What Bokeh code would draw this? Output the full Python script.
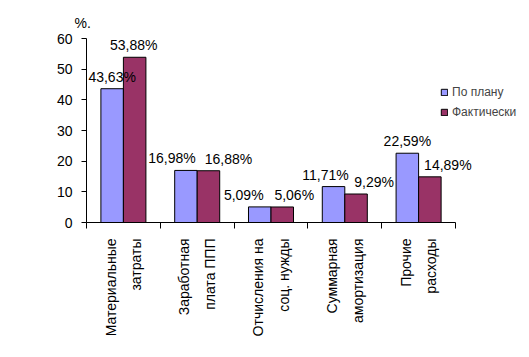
import numpy as np
from bokeh.plotting import figure
from bokeh.models import (ColumnDataSource, Range1d, FixedTicker, Legend, LegendItem, Title)
from bokeh.core.properties import value
from bokeh.embed import file_html
from bokeh.resources import INLINE

categories = ["Материальные\nзатраты", "Заработная\nплата ППП", "Отчисления на\nсоц. нужды",
              "Суммарная\nамортизация", "Прочие\nрасходы"]
plan = [43.63, 16.98, 5.09, 11.71, 22.59]
fact = [53.88, 16.88, 5.06, 9.29, 14.89]
series_names = ["По плану", "Фактически"]
y_ticks = [0, 10, 20, 30, 40, 50, 60]
unit_label = "%."

FONT = "Liberation Sans"
C_PLAN = "#9999FF"
C_FACT = "#993366"

n = len(categories)
centers = np.arange(n) + 0.5
bw = 0.305

# label nudges (pixels) as Excel places them to avoid overlap
plan_dx = [0, -14, -16, -8, 0]
fact_dx = [-1, 20, 12, 18, 18]

def fmt(v):
    return f"{v:.2f}".replace(".", ",") + "%"

src_plan = ColumnDataSource(dict(x=centers - bw / 2, top=plan, lbl=[fmt(v) for v in plan], dx=plan_dx))
src_fact = ColumnDataSource(dict(x=centers + bw / 2, top=fact, lbl=[fmt(v) for v in fact], dx=fact_dx))

p = figure(width=529, height=357, output_backend="svg", toolbar_location=None,
           x_range=Range1d(0, 6.0027), y_range=Range1d(0, 62.61),
           min_border_left=86, min_border_right=0, min_border_top=30, min_border_bottom=135)
p.outline_line_color = None
p.grid.visible = False
p.background_fill_color = "white"
p.border_fill_color = "white"

p.add_layout(Title(text=unit_label, align="left", offset=-12, standoff=0,
                   text_font=FONT, text_font_size="14px", text_font_style="normal",
                   text_color="black"), "above")

r1 = p.vbar(x="x", top="top", width=bw, bottom=0, source=src_plan,
            fill_color=C_PLAN, line_color="black", line_width=1)
r2 = p.vbar(x="x", top="top", width=bw, bottom=0, source=src_fact,
            fill_color=C_FACT, line_color="black", line_width=1)

for src in (src_plan, src_fact):
    p.text(x="x", y="top", text="lbl", source=src, x_offset="dx", y_offset=-12,
           text_align="center", text_baseline="middle",
           text_font=value(FONT), text_font_size="14px", text_color="black")

# y axis
p.yaxis.ticker = FixedTicker(ticks=y_ticks)
p.yaxis.bounds = (0, 60)
p.yaxis.major_tick_out = 5
p.yaxis.major_tick_in = 0
p.yaxis.minor_tick_line_color = None
p.yaxis.major_label_standoff = 9
p.yaxis.major_label_text_font = FONT
p.yaxis.major_label_text_font_size = "14px"
p.yaxis.major_label_text_color = "black"
p.yaxis.axis_line_color = "black"

# x axis
p.xaxis.ticker = FixedTicker(ticks=list(centers), minor_ticks=list(range(n + 1)))
p.xaxis.bounds = (0, n)
p.xaxis.major_label_overrides = {float(c): lab for c, lab in zip(centers, categories)}
p.xaxis.major_tick_line_color = None
p.xaxis.minor_tick_out = 6
p.xaxis.minor_tick_in = 0
p.xaxis.minor_tick_line_color = "black"
p.xaxis.major_label_orientation = np.pi / 2
p.xaxis.major_label_standoff = 10
p.xaxis.major_label_text_font = FONT
p.xaxis.major_label_text_font_size = "14px"
p.xaxis.major_label_text_line_height = 1.6
p.xaxis.major_label_text_color = "black"
p.xaxis.axis_line_color = "black"

legend = Legend(items=[LegendItem(label=series_names[0], renderers=[r1]),
                       LegendItem(label=series_names[1], renderers=[r2])],
                location=(354, 100), glyph_width=8, glyph_height=8, label_standoff=4,
                label_text_font=FONT, label_text_font_size="12px", label_height=20,
                spacing=0, padding=0, margin=0, border_line_color=None,
                background_fill_alpha=0)
p.add_layout(legend)

open("out.html", "w").write(file_html(p, INLINE))
